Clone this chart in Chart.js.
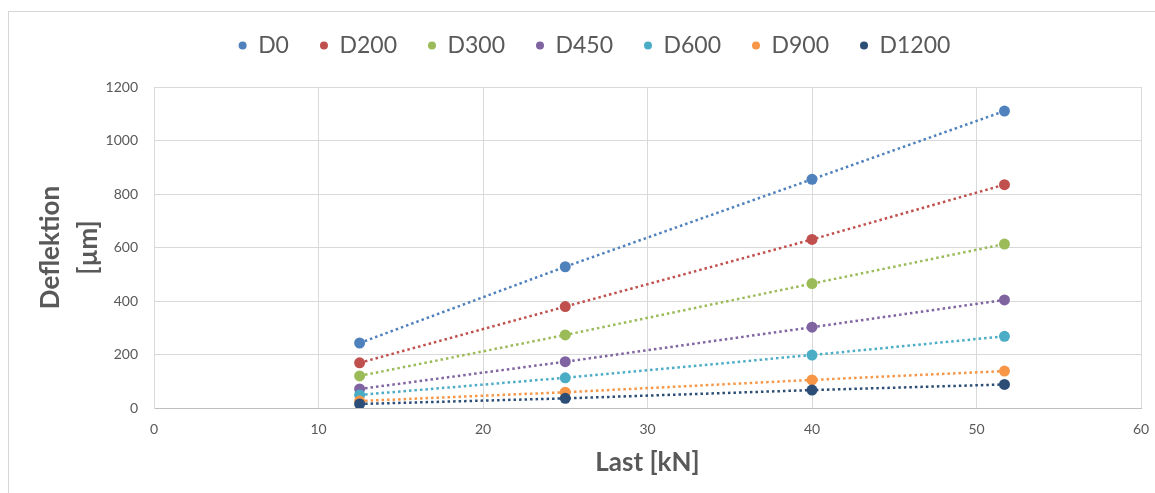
<!DOCTYPE html>
<html>
<head>
<meta charset="utf-8">
<title>Deflektion vs Last</title>
<script src="https://cdn.jsdelivr.net/npm/chart.js@4/dist/chart.umd.min.js"></script>
<style>
  html, body { margin: 0; padding: 0; background: #fff; }
  #wrap { position: relative; width: 1155px; height: 493px; overflow: hidden; }
  #frame { position: absolute; left: 8px; top: 11px; right: -2px; bottom: -2px; border-left: 1px solid #d6d6d6; border-top: 1px solid #d6d6d6; }
  canvas { position: absolute; left: 0; top: 0; }
</style>
</head>
<body>
<div id="wrap">
  <div id="frame"></div>
  <canvas id="deflChart" width="1155" height="493"></canvas>
</div>
<script>
// Data
const loads = [12.5, 25, 40, 51.7];   // Last [kN]
const seriesNames = ['D0', 'D200', 'D300', 'D450', 'D600', 'D900', 'D1200'];
const d0    = [243, 528, 855, 1110];
const d200  = [169, 379, 630, 835];
const d300  = [120, 273, 465, 613];
const d450  = [71, 173, 302, 404];
const d600  = [49, 113, 198, 268];
const d900  = [26, 59, 105, 138];
const d1200 = [15, 36, 67, 88];
const xTicks = [0, 10, 20, 30, 40, 50, 60];
const yTicks = [0, 200, 400, 600, 800, 1000, 1200];

const seriesValues = [d0, d200, d300, d450, d600, d900, d1200];
const colors = ['#4f81bd', '#c0504d', '#9bbb59', '#8064a2', '#4bacc6', '#f79646', '#2c4d75'];
const textColor = '#595959';

Chart.defaults.font.family = 'Lato, "Open Sans", sans-serif';
Chart.defaults.color = textColor;

const datasets = seriesNames.map((name, i) => ({
    label: name,
    data: loads.map((x, j) => ({ x: x, y: seriesValues[i][j] })),
    showLine: true,
    borderColor: colors[i],
    backgroundColor: colors[i],
    borderWidth: 2.5,
    borderDash: [2.5, 3],
    pointRadius: 5.5,
    pointBorderWidth: 0,
    pointHoverRadius: 5.5,
    order: seriesNames.length - i
}));

// Fixed legend height so the plot starts where it does in the picture,
// and nudge the legend row a bit right like the original
const legendPlace = {
    id: 'legendPlace',
    beforeInit(chart) {
        const fit = chart.legend.fit;
        chart.legend.fit = function () {
            fit.call(this);
            this.height = 84;
        };
    },
    afterLayout(chart) {
        chart.legend.left += 24;
        chart.legend.right += 24;
    }
};

const ctx = document.getElementById('deflChart').getContext('2d');
new Chart(ctx, {
    type: 'scatter',
    data: { datasets: datasets },
    plugins: [legendPlace],
    options: {
        responsive: false,
        animation: false,
        layout: { padding: { top: 3, left: 0, right: 14, bottom: 0 } },
        plugins: {
            tooltip: { enabled: false },
            legend: {
                position: 'top',
                labels: {
                    font: { size: 23 },
                    color: textColor,
                    boxWidth: 8,
                    boxHeight: 8,
                    padding: 31,
                    useBorderRadius: true,
                    borderRadius: 4,
                    generateLabels: chart => chart.data.datasets.map((ds, i) => ({
                        text: ds.label,
                        fillStyle: ds.backgroundColor,
                        strokeStyle: ds.backgroundColor,
                        lineWidth: 0,
                        lineDash: [],
                        borderRadius: 4,
                        fontColor: textColor,
                        hidden: false,
                        datasetIndex: i
                    }))
                }
            }
        },
        scales: {
            x: {
                type: 'linear',
                min: xTicks[0],
                max: xTicks[xTicks.length - 1],
                afterFit: scale => {
                    scale.height = 85;
                    scale.paddingRight = 0;
                },
                ticks: { stepSize: xTicks[1] - xTicks[0], padding: 13, font: { size: 14 }, color: textColor },
                grid: { color: '#d9d9d9', drawTicks: false },
                border: { color: '#bfbfbf' },
                title: {
                    display: true,
                    text: 'Last [kN]',
                    color: textColor,
                    font: { size: 26, weight: 'bold' },
                    padding: { top: 0, bottom: 15 }
                }
            },
            y: {
                min: yTicks[0],
                max: yTicks[yTicks.length - 1],
                afterFit: scale => { scale.width = 154; },
                ticks: {
                    stepSize: yTicks[1] - yTicks[0],
                    padding: 16,
                    font: { size: 14 },
                    color: textColor,
                    callback: value => String(value)
                },
                grid: { color: '#d9d9d9', drawTicks: false },
                border: { color: '#d9d9d9' },
                title: {
                    display: true,
                    text: ['Deflektion', '[µm]'],
                    color: textColor,
                    font: { size: 26, weight: 'bold', lineHeight: 1.45 },
                    padding: { top: 32, bottom: 0 }
                }
            }
        }
    }
});
</script>
</body>
</html>
